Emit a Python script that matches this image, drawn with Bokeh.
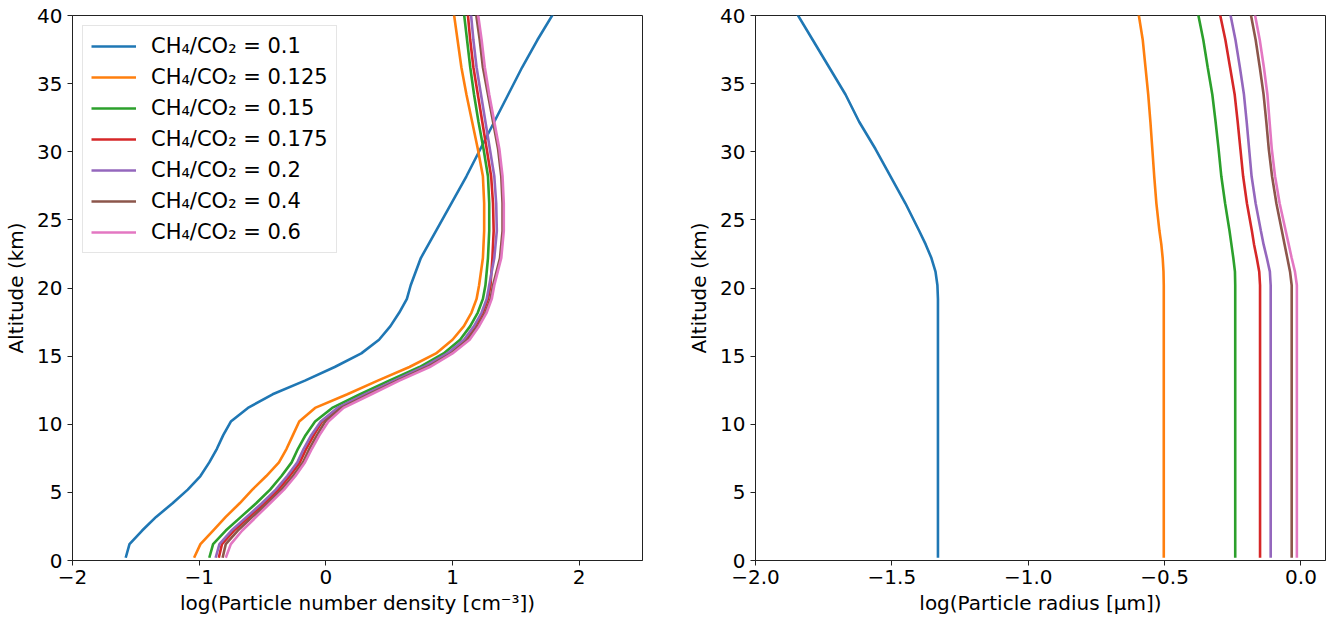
from bokeh.plotting import figure
from bokeh.layouts import row
from bokeh.models import FixedTicker
from bokeh.embed import file_html
from bokeh.resources import INLINE

# ---------------- data ----------------
ratio_labels = ["CH₄/CO₂ = 0.1", "CH₄/CO₂ = 0.125", "CH₄/CO₂ = 0.15", "CH₄/CO₂ = 0.175",
                "CH₄/CO₂ = 0.2", "CH₄/CO₂ = 0.4", "CH₄/CO₂ = 0.6"]
colors = ["#1f77b4", "#ff7f0e", "#2ca02c", "#d62728", "#9467bd", "#8c564b", "#e377c2"]

alt_density = [0.2, 1.2, 2.2, 3.2, 4.2, 5.2, 6.2, 7.2, 8.2, 9.2, 10.2, 11.2, 12.2, 13.2, 14.2,
               15.2, 16.2, 17.2, 18.2, 19.2, 20.2, 22.2, 24.2, 26.2, 28.2, 30.2, 32.2, 34.2,
               36.2, 38.2, 40.2]
dens_0_1 = [-1.58, -1.55, -1.45, -1.34, -1.21, -1.09, -0.99, -0.92, -0.86, -0.81, -0.75, -0.615,
            -0.42, -0.165, 0.07, 0.28, 0.42, 0.51, 0.58, 0.64, 0.67, 0.75, 0.87, 0.99, 1.11,
            1.22, 1.33, 1.44, 1.55, 1.67, 1.80]
dens_0_125 = [-1.04, -0.99, -0.89, -0.79, -0.68, -0.58, -0.47, -0.37, -0.31, -0.26, -0.21, -0.085,
              0.17, 0.41, 0.66, 0.87, 1.00, 1.09, 1.15, 1.19, 1.21, 1.24, 1.25, 1.25, 1.24,
              1.20, 1.155, 1.11, 1.07, 1.04, 1.01]
dens_0_15 = [-0.92, -0.89, -0.79, -0.67, -0.55, -0.44, -0.35, -0.27, -0.22, -0.16, -0.085, 0.05,
             0.27, 0.50, 0.74, 0.93, 1.06, 1.14, 1.20, 1.24, 1.26, 1.28, 1.29, 1.29, 1.28,
             1.245, 1.205, 1.17, 1.14, 1.115, 1.09]
dens_0_175 = [-0.845, -0.82, -0.725, -0.605, -0.485, -0.375, -0.285, -0.205, -0.155, -0.095, -0.03,
              0.10, 0.32, 0.55, 0.78, 0.97, 1.10, 1.18, 1.24, 1.28, 1.30, 1.315, 1.325, 1.32,
              1.305, 1.27, 1.235, 1.20, 1.165, 1.14, 1.12]
dens_0_2 = [-0.87, -0.84, -0.745, -0.625, -0.505, -0.395, -0.305, -0.225, -0.175, -0.115, -0.04,
            0.09, 0.31, 0.54, 0.77, 0.96, 1.09, 1.17, 1.23, 1.27, 1.29, 1.33, 1.35, 1.345, 1.33,
            1.295, 1.26, 1.225, 1.19, 1.165, 1.145]
dens_0_4 = [-0.815, -0.79, -0.695, -0.58, -0.46, -0.35, -0.26, -0.18, -0.13, -0.07, -0.005, 0.12,
            0.34, 0.565, 0.80, 0.99, 1.12, 1.20, 1.26, 1.30, 1.32, 1.375, 1.395, 1.395, 1.385,
            1.36, 1.32, 1.28, 1.24, 1.215, 1.185]
dens_0_6 = [-0.79, -0.75, -0.66, -0.55, -0.44, -0.33, -0.24, -0.165, -0.11, -0.05, 0.02, 0.14,
            0.36, 0.58, 0.82, 1.00, 1.135, 1.21, 1.27, 1.31, 1.33, 1.385, 1.405, 1.405, 1.395,
            1.37, 1.33, 1.29, 1.255, 1.23, 1.20]

alt_radius = [0.2, 5.2, 10.2, 15.2, 19.2, 20.2, 21.2, 22.2, 23.2, 24.2, 26.2, 28.2, 30.2, 32.2,
              34.2, 36.2, 38.2, 40.2]
rad_0_1 = [-1.331, -1.331, -1.331, -1.331, -1.331, -1.333, -1.34, -1.355, -1.376, -1.40, -1.45,
           -1.505, -1.56, -1.62, -1.67, -1.73, -1.79, -1.85]
rad_0_125 = [-0.503, -0.503, -0.503, -0.503, -0.503, -0.503, -0.504, -0.507, -0.512, -0.519, -0.53,
             -0.538, -0.545, -0.552, -0.56, -0.57, -0.58, -0.596]
rad_0_15 = [-0.241, -0.241, -0.241, -0.241, -0.241, -0.241, -0.242, -0.248, -0.255, -0.262, -0.278,
            -0.292, -0.302, -0.313, -0.325, -0.342, -0.358, -0.378]
rad_0_175 = [-0.150, -0.150, -0.150, -0.150, -0.150, -0.150, -0.153, -0.162, -0.172, -0.18, -0.198,
             -0.212, -0.222, -0.232, -0.243, -0.26, -0.277, -0.298]
rad_0_2 = [-0.111, -0.111, -0.111, -0.111, -0.111, -0.111, -0.114, -0.125, -0.137, -0.147, -0.166,
           -0.181, -0.19, -0.199, -0.209, -0.224, -0.24, -0.26]
rad_0_4 = [-0.034, -0.034, -0.034, -0.034, -0.034, -0.034, -0.04, -0.05, -0.06, -0.07, -0.09,
           -0.106, -0.118, -0.127, -0.137, -0.151, -0.166, -0.185]
rad_0_6 = [-0.015, -0.015, -0.015, -0.015, -0.015, -0.015, -0.022, -0.034, -0.045, -0.056, -0.078,
           -0.095, -0.107, -0.115, -0.123, -0.136, -0.151, -0.17]

alt_ticks = [0, 5, 10, 15, 20, 25, 30, 35, 40]
density_ticks = [-2, -1, 0, 1, 2]
density_tick_labels = ["−2", "−1", "0", "1", "2"]
radius_ticks = [-2.0, -1.5, -1.0, -0.5, 0.0]
radius_tick_labels = ["−2.0", "−1.5", "−1.0", "−0.5", "0.0"]

density_series = [dens_0_1, dens_0_125, dens_0_15, dens_0_175, dens_0_2, dens_0_4, dens_0_6]
radius_series = [rad_0_1, rad_0_125, rad_0_15, rad_0_175, rad_0_2, rad_0_4, rad_0_6]

FONT = "DejaVu Sans"
FS = "20px"
AX = "#222222"


def style(p, xticks, xlabels, xlabel):
    p.grid.visible = False
    p.outline_line_color = AX
    p.outline_line_width = 1
    p.xaxis.ticker = FixedTicker(ticks=xticks)
    p.xaxis.major_label_overrides = {t: s for t, s in zip(xticks, xlabels)}
    p.yaxis.ticker = FixedTicker(ticks=alt_ticks)
    p.xaxis.axis_label = xlabel
    p.yaxis.axis_label = "Altitude (km)"
    for ax in (p.xaxis[0], p.yaxis[0]):
        ax.axis_line_color = AX
        ax.major_tick_line_color = AX
        ax.major_tick_out = 5
        ax.major_tick_in = 0
        ax.minor_tick_line_color = None
        ax.major_label_text_font = FONT
        ax.major_label_text_font_size = FS
        ax.major_label_text_color = "black"
        ax.axis_label_text_font = FONT
        ax.axis_label_text_font_size = FS
        ax.axis_label_text_font_style = "normal"
        ax.axis_label_text_color = "black"
    p.xaxis.major_label_standoff = 4
    p.xaxis.axis_label_standoff = 4
    p.yaxis.major_label_standoff = 5
    p.yaxis.axis_label_standoff = 6


p1 = figure(width=652, height=622, x_range=(-2, 2.5), y_range=(0, 40),
            output_backend="svg", toolbar_location=None,
            min_border_left=72, min_border_right=10, min_border_top=15, min_border_bottom=62)
for lab, col, xs in zip(ratio_labels, colors, density_series):
    p1.line(xs, alt_density, line_color=col, line_width=2.6, legend_label=lab)
style(p1, density_ticks, density_tick_labels, "log(Particle number density [cm⁻³])")

lg = p1.legend[0]
lg.location = "top_left"
lg.margin = 10
lg.padding = 8
lg.spacing = 7
lg.glyph_width = 45
lg.glyph_height = 24
lg.label_height = 24
lg.label_standoff = 15
lg.label_text_font = FONT
lg.label_text_font_size = "21px"
lg.label_text_color = "black"
lg.border_line_color = "#cccccc"
lg.border_line_width = 1
lg.background_fill_alpha = 0.8

p2 = figure(width=678, height=622, x_range=(-2.0, 0.09), y_range=(0, 40),
            output_backend="svg", toolbar_location=None,
            min_border_left=103, min_border_right=5, min_border_top=15, min_border_bottom=62)
for col, xs in zip(colors, radius_series):
    p2.line(xs, alt_radius, line_color=col, line_width=2.6)
style(p2, radius_ticks, radius_tick_labels, "log(Particle radius [μm])")

layout = row(p1, p2)
open("out.html", "w").write(file_html(layout, INLINE))
